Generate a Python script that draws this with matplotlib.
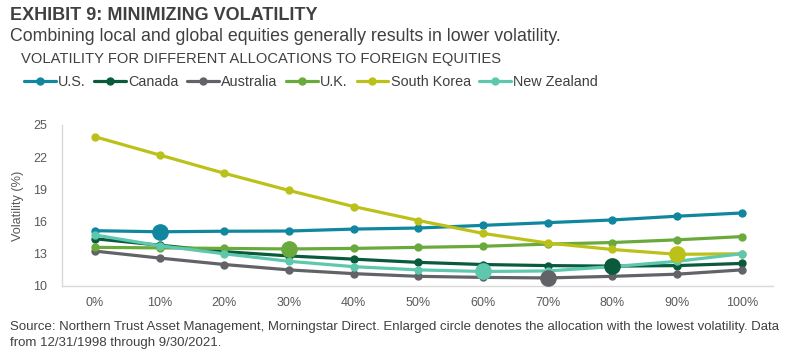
import matplotlib.pyplot as plt

plt.rcParams['font.family'] = ['Liberation Sans', 'DejaVu Sans']

# datos
asignacion = [0, 10, 20, 30, 40, 50, 60, 70, 80, 90, 100]
etiquetas_x = ['0%', '10%', '20%', '30%', '40%', '50%', '60%', '70%', '80%', '90%', '100%']

us = [15.15, 15.05, 15.1, 15.12, 15.3, 15.4, 15.65, 15.9, 16.15, 16.5, 16.8]
canada = [14.4, 13.8, 13.2, 12.8, 12.5, 12.2, 12.0, 11.9, 11.85, 11.9, 12.1]
australia = [13.25, 12.6, 12.0, 11.5, 11.15, 10.9, 10.8, 10.75, 10.9, 11.1, 11.5]
uk = [13.6, 13.55, 13.5, 13.45, 13.5, 13.6, 13.7, 13.9, 14.05, 14.3, 14.6]
corea = [23.9, 22.2, 20.5, 18.9, 17.4, 16.1, 14.9, 14.0, 13.4, 12.95, 13.0]
nz = [14.75, 13.75, 13.0, 12.3, 11.8, 11.5, 11.35, 11.4, 11.8, 12.3, 13.0]

series = [
    ('U.S.', us, '#10879f'),
    ('Canada', canada, '#0a5a3c'),
    ('Australia', australia, '#626369'),
    ('U.K.', uk, '#6aaa3c'),
    ('South Korea', corea, '#bcc11a'),
    ('New Zealand', nz, '#5ec8ae'),
]

gris = '#595959'
texto = '#404040'

fig = plt.figure(figsize=(8, 3.55), dpi=100)
ax = fig.add_axes([0.0775, 0.1944, 0.8885, 0.4536])

for nombre, valores, color in series:
    ax.plot(asignacion, valores, color=color, lw=2.3, marker='o', ms=5,
            label=nombre, solid_capstyle='round')
    # circulo grande en la volatilidad minima
    i = valores.index(min(valores))
    ax.plot(asignacion[i], valores[i], 'o', color=color, ms=11, zorder=5)

ax.set_xlim(-5.1, 104.8)
ax.set_ylim(10, 25)
ax.set_xticks(asignacion)
ax.set_xticklabels(etiquetas_x)
ax.set_yticks([10, 13, 16, 19, 22, 25])
ax.tick_params(axis='both', length=0, labelsize=9, colors=gris)
ax.tick_params(axis='x', pad=8)
ax.tick_params(axis='y', pad=10.5)
ax.set_ylabel('Volatility (%)', fontsize=9.2, color=gris)
ax.yaxis.set_label_coords(-0.054, 0.5)
for lado in ['top', 'right']:
    ax.spines[lado].set_visible(False)
for lado in ['left', 'bottom']:
    ax.spines[lado].set_color('#d9d9d9')
    ax.spines[lado].set_linewidth(1)

fig.text(0.013, 0.956, 'EXHIBIT 9: MINIMIZING VOLATILITY', fontsize=13,
         fontweight='bold', color=texto, va='center')
fig.text(0.013, 0.896, 'Combining local and global equities generally results in lower volatility.',
         fontsize=12.8, color=texto, va='center')
fig.text(0.026, 0.835, 'VOLATILITY FOR DIFFERENT ALLOCATIONS TO FOREIGN EQUITIES',
         fontsize=10.6, color=texto, va='center')

fig.legend(loc='center left', bbox_to_anchor=(0.03, 0.768), ncol=6, frameon=False,
           fontsize=10.4, handlelength=2.2, handletextpad=0.15, columnspacing=0.6,
           labelcolor=texto, borderaxespad=0, borderpad=0)

fig.text(0.013, 0.08, 'Source: Northern Trust Asset Management, Morningstar Direct. Enlarged circle denotes '
         'the allocation with the lowest volatility. Data', fontsize=9.5, color=texto, va='center')
fig.text(0.013, 0.034, 'from 12/31/1998 through 9/30/2021.', fontsize=9.5, color=texto, va='center')

fig.savefig('out.png', dpi=100)
